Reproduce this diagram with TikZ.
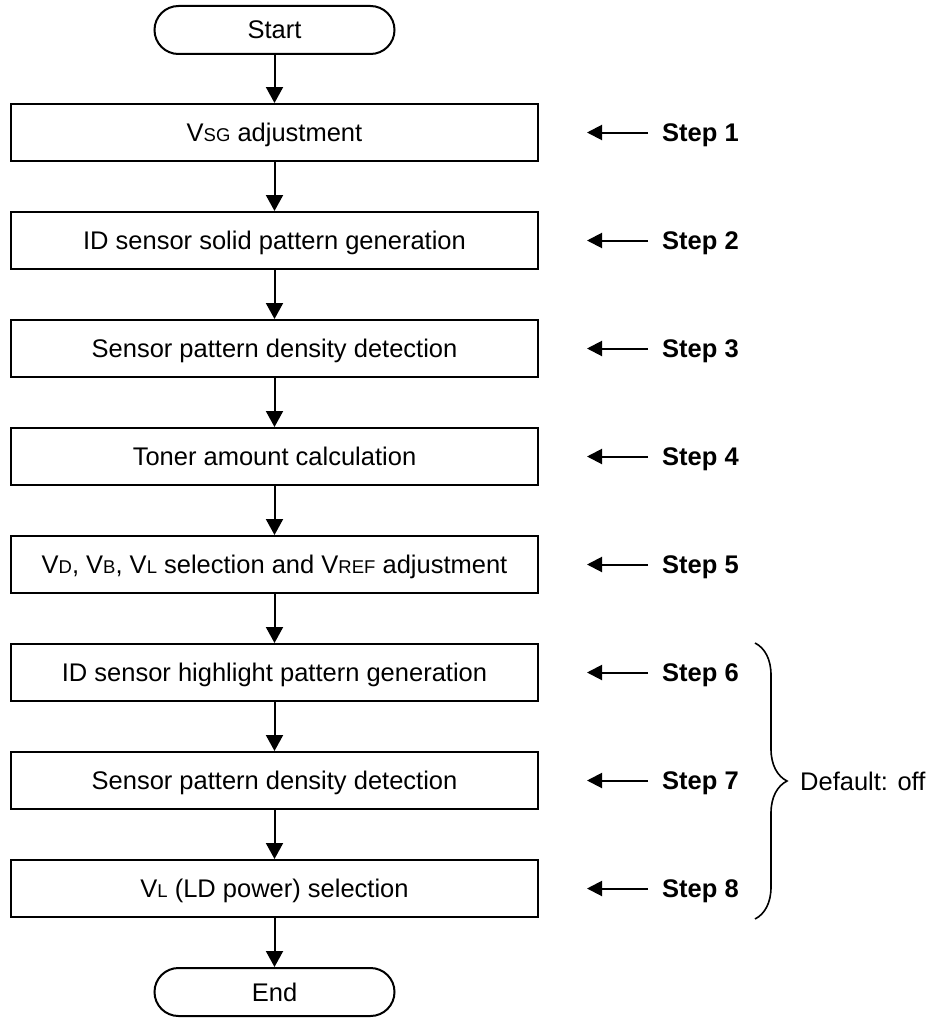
\documentclass[tikz,border=0pt]{standalone}
\usepackage{fontspec}
\setmainfont{Liberation Sans}
\usepackage{tikz}
\usetikzlibrary{arrows.meta,decorations.pathreplacing}
\newcommand{\lo}[1]{{\fontsize{18.5}{20}\selectfont #1}}
\tikzset{box/.style={draw,line width=2pt,minimum width=527pt,minimum height=57pt,
  font=\fontsize{25.5}{30}\selectfont,text height=18pt,text depth=0pt},
term/.style={box,rounded corners=24pt,minimum width=240pt,minimum height=48pt},
flow/.style={-{Triangle[length=16pt,width=17pt]},line width=2pt},
ptr/.style={-{Triangle[length=15pt,width=15pt]},line width=2pt,shorten <=14pt,shorten >=48pt},
steplab/.style={anchor=west,inner sep=0pt,font=\fontsize{25.5}{30}\selectfont\bfseries,
  text height=18pt,text depth=0pt},
note/.style={anchor=west,inner sep=0pt,font=\fontsize{25.5}{30}\selectfont,
  text height=18pt,text depth=0pt}}
\begin{document}
\begin{tikzpicture}[x=1pt,y=-1pt]
\useasboundingbox (0,0) rectangle (937,1025);
\node[term] (start) at (274.5,30) {Start};
\node[box] (b1) at (274.5,132.5) {V\lo{SG} adjustment};
\node[box] (b2) at (274.5,240.5) {ID sensor solid pattern generation};
\node[box] (b3) at (274.5,348.5) {Sensor pattern density detection};
\node[box] (b4) at (274.5,456.5) {Toner amount calculation};
\node[box] (b5) at (274.5,564.5) {V\lo{D}, V\lo{B}, V\lo{L} selection and V\lo{REF} adjustment};
\node[box] (b6) at (274.5,672.5) {ID sensor highlight pattern generation};
\node[box] (b7) at (274.5,780.5) {Sensor pattern density detection};
\node[box] (b8) at (274.5,888.5) {V\lo{L} (LD power) selection};
\node[term] (end) at (274.5,992) {End};
\draw[flow] (start) -- (b1);
\draw[flow] (b1) -- (b2);
\draw[flow] (b2) -- (b3);
\draw[flow] (b3) -- (b4);
\draw[flow] (b4) -- (b5);
\draw[flow] (b5) -- (b6);
\draw[flow] (b6) -- (b7);
\draw[flow] (b7) -- (b8);
\draw[flow] (b8) -- (end);
% step labels
\node[steplab] (s1) at (662,132.5) {Step 1};
\node[steplab] (s2) at (662,240.5) {Step 2};
\node[steplab] (s3) at (662,348.5) {Step 3};
\node[steplab] (s4) at (662,456.5) {Step 4};
\node[steplab] (s5) at (662,564.5) {Step 5};
\node[steplab] (s6) at (662,672.5) {Step 6};
\node[steplab] (s7) at (662,780.5) {Step 7};
\node[steplab] (s8) at (662,888.5) {Step 8};
\draw[ptr] (s1.west) -- (b1.east);
\draw[ptr] (s2.west) -- (b2.east);
\draw[ptr] (s3.west) -- (b3.east);
\draw[ptr] (s4.west) -- (b4.east);
\draw[ptr] (s5.west) -- (b5.east);
\draw[ptr] (s6.west) -- (b6.east);
\draw[ptr] (s7.west) -- (b7.east);
\draw[ptr] (s8.west) -- (b8.east);
% brace over steps 6-8
\coordinate (bt) at (755,643);
\coordinate (bb) at (755,919);
\draw[line width=1.6pt,decorate,decoration={brace,amplitude=32pt}] (bt) -- (bb);
\node[note] (off) at (800,781) {Default: off};
\end{tikzpicture}
\end{document}
